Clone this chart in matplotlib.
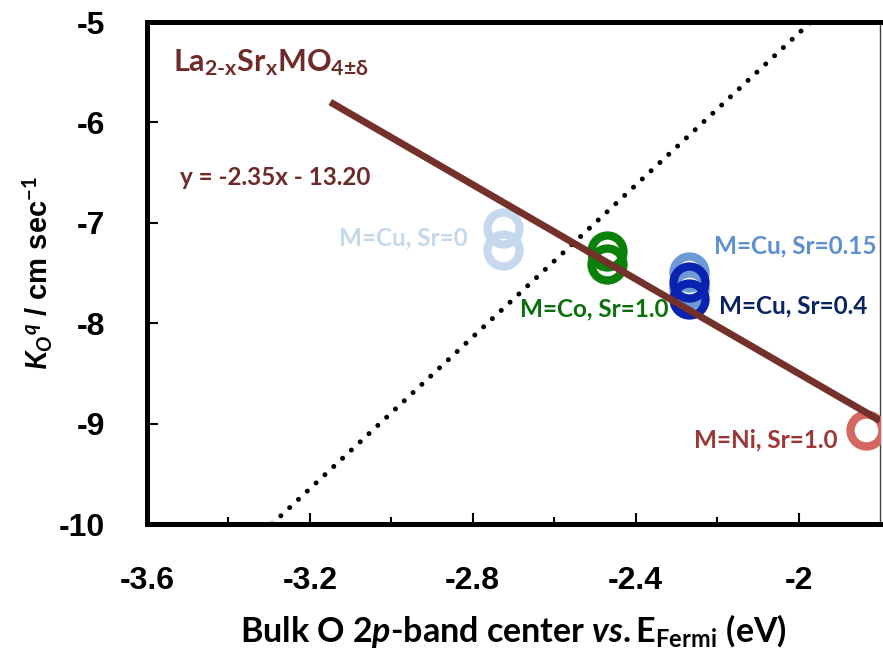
import numpy as np
import matplotlib
matplotlib.use("Agg")
import matplotlib.pyplot as plt

# data
fit_x = [-3.15, -1.80]
fit_slope, fit_icpt = -2.35, -13.20
ref_x = [-3.293, -1.97]
ref_y = [-10.0, -5.0]

cu0_x = [-2.727, -2.727]
cu0_y = [-7.05, -7.27]
co_x = [-2.471, -2.471]
co_y = [-7.28, -7.41]
cu15_x = [-2.270, -2.270]
cu15_y = [-7.49, -7.66]
cu40_x = [-2.268, -2.268]
cu40_y = [-7.59, -7.76]
ni_x = [-1.834]
ni_y = [-9.06]

xticks = [-3.6, -3.2, -2.8, -2.4, -2.0]
xtick_labels = ['-3.6', '-3.2', '-2.8', '-2.4', '-2']
yticks = [-10, -9, -8, -7, -6, -5]
ytick_labels = ['-10', '-9', '-8', '-7', '-6', '-5']

plt.rcParams['axes.unicode_minus'] = False
plt.rcParams['mathtext.fontset'] = 'custom'
plt.rcParams['mathtext.rm'] = 'Lato:bold'
plt.rcParams['mathtext.it'] = 'Lato:bold:italic'
plt.rcParams['mathtext.bf'] = 'Lato:bold'

lab_font = ['Lato', 'DejaVu Sans']
tick_font = ['Liberation Sans Narrow', 'Liberation Sans', 'DejaVu Sans']

fig = plt.figure(figsize=(8.83, 6.51), dpi=100)
ax = fig.add_axes([147/883, 127/651, 733/883, 502/651])

ax.plot(ref_x, ref_y, color='black', lw=3.6, linestyle=(0, (0.01, 2.4)),
        dash_capstyle='round', zorder=2)

ms, mew = 23, 6
ax.plot(cu0_x, cu0_y, 'o', mfc='none', mec='#C5D8EC', ms=ms, mew=mew, zorder=3)
ax.plot(co_x, co_y, 'o', mfc='none', mec='#0B800B', ms=ms, mew=mew, zorder=3)
ax.plot(cu15_x, cu15_y, 'o', mfc='none', mec='#5D8FD2', ms=ms, mew=mew, alpha=0.9, zorder=3)
ax.plot(cu40_x, cu40_y, 'o', mfc='none', mec='#0A22B0', ms=ms, mew=mew, zorder=3)
ax.plot(ni_x, ni_y, 'o', mfc='none', mec='#D4675F', ms=ms, mew=mew, zorder=3)

fx = np.array(fit_x)
ax.plot(fx, fit_slope * fx + fit_icpt, color='#74302B', lw=5, solid_capstyle='butt', zorder=4)

ax.set_xlim(-3.6, -1.8)
ax.set_ylim(-10, -5)
ax.set_xticks(xticks)
ax.set_xticklabels(xtick_labels)
ax.set_xticks([-3.4, -3.0, -2.6, -2.2], minor=True)
ax.set_yticks(yticks)
ax.set_yticklabels(ytick_labels)
ax.tick_params(axis='both', which='major', direction='in', length=8, width=1.5,
               labelsize=23)
ax.tick_params(axis='x', which='minor', direction='in', length=5, width=1.5)
ax.tick_params(axis='x', pad=30)
ax.tick_params(axis='y', pad=30)
for lbl in ax.get_xticklabels() + ax.get_yticklabels():
    lbl.set_family(tick_font)
    lbl.set_fontweight('bold')

for s in ['left', 'bottom', 'top']:
    ax.spines[s].set_linewidth(3.6)
ax.spines['right'].set_linewidth(1.0)
ax.spines['right'].set_color('#404040')

ax.set_xlabel(r'Bulk O $\mathit{2p}$-band center $\mathit{vs.}$E$_\mathrm{Fermi}$ (eV)',
              family=lab_font, fontweight='bold', fontsize=24.5, labelpad=12)
ax.set_ylabel(r'$\mathit{K_O}^{\mathit{q}}$ / cm sec$^{\mathrm{-1}}$',
              family=tick_font, fontweight='bold', fontsize=21, labelpad=3)

ax.text(-3.537, -5.40, r'La$_\mathrm{2\text{-}x}$Sr$_\mathrm{x}$MO$_\mathrm{4{\pm}\delta}$',
        color='#6E2B29', fontsize=22, family=lab_font, fontweight='bold', va='center')
ax.text(-3.52, -6.55, 'y = -2.35x - 13.20', color='#6E2B29', fontsize=17.5,
        family=lab_font, fontweight='bold', va='center')
ax.text(-2.812, -7.15, 'M=Cu, Sr=0', color='#C5D8EC', fontsize=17.5,
        family=lab_font, fontweight='bold', va='center', ha='right')
ax.text(-2.685, -7.86, 'M=Co, Sr=1.0', color='#0B700B', fontsize=17.5,
        family=lab_font, fontweight='bold', va='center')
ax.text(-2.207, -7.23, 'M=Cu, Sr=0.15', color='#5D8FD2', fontsize=17.5,
        family=lab_font, fontweight='bold', va='center')
ax.text(-2.195, -7.83, 'M=Cu, Sr=0.4', color='#0A2463', fontsize=17.5,
        family=lab_font, fontweight='bold', va='center')
ax.text(-2.256, -9.16, 'M=Ni, Sr=1.0', color='#9E3636', fontsize=17.5,
        family=lab_font, fontweight='bold', va='center')

fig.savefig('out.png', dpi=100)
